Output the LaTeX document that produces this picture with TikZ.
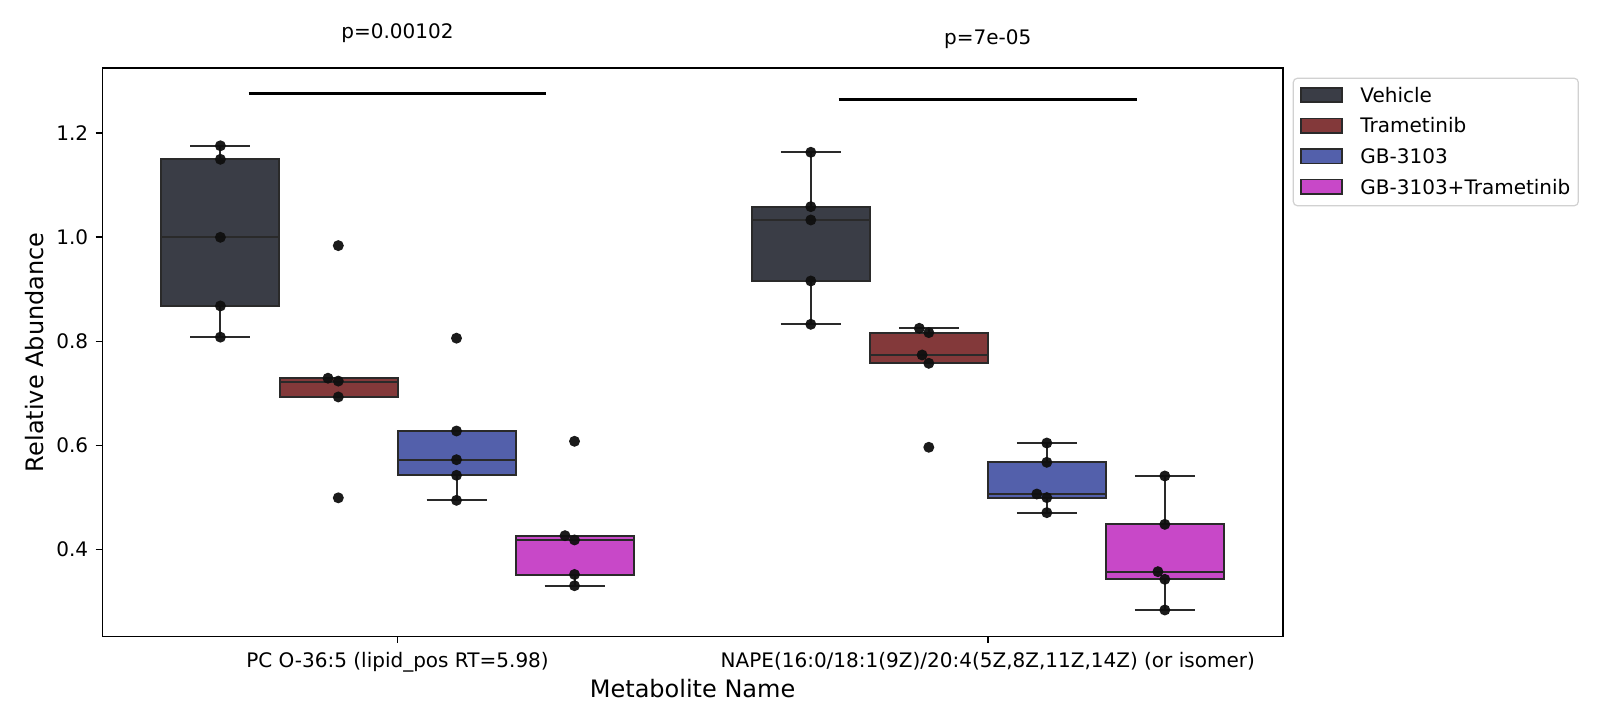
\documentclass[tikz,border=0pt]{standalone}
\usepackage{fontspec}
\setmainfont{DejaVu Sans}
\definecolor{cveh}{RGB}{58,61,70}
\definecolor{ctra}{RGB}{131,57,58}
\definecolor{cgb}{RGB}{83,96,171}
\definecolor{ccomb}{RGB}{200,72,200}
\definecolor{edgec}{RGB}{42,42,42}
\definecolor{dotc}{RGB}{15,15,15}
\tikzset{
  axisline/.style={line width=0.8pt, draw=black},
  boxedge/.style={draw=edgec, line width=1pt},
  sigline/.style={line width=1.5pt, draw=black},
  ticklab/.style={font=\fontsize{10}{12}\selectfont, inner sep=0pt},
  axlab/.style={font=\fontsize{12}{14}\selectfont, inner sep=0pt},
  dotst/.style={fill=dotc, fill opacity=0.95},
  legbox/.style={draw=black!18, line width=0.6pt, rounded corners=2pt, fill=white},
  legpatch/.style={draw=edgec, line width=0.8pt}
}
% box: center x, fill, whisker low, q1, median, q3, whisker high
\newcommand\myboxplot[7]{%
  \draw[boxedge] (#1,#4) -- (#1,#3);
  \draw[boxedge] (#1-30,#3) -- (#1+30,#3);
  \draw[boxedge] (#1,#6) -- (#1,#7);
  \draw[boxedge] (#1-30,#7) -- (#1+30,#7);
  \filldraw[boxedge, fill=#2] (#1-59,#4) rectangle (#1+59,#6);
  \draw[boxedge] (#1-59,#5) -- (#1+59,#5);
}
\newcommand\mydot[2]{\fill[dotst] (#1,#2) circle (2.75pt);}
\begin{document}
\begin{tikzpicture}[x=0.5pt,y=-0.5pt]
\fill[white] (0,0) rectangle (1600,727);
\useasboundingbox (0,0) rectangle (1600,727);

% data scope: x in px, y in data values
\begin{scope}[yshift=-378.65pt, y=260pt]
  % group 1
  \myboxplot{220.4}{cveh}{0.808}{0.868}{1.0}{1.15}{1.176}
  \myboxplot{338.5}{ctra}{0.693}{0.693}{0.7223}{0.7294}{0.7294}
  \myboxplot{456.5}{cgb}{0.4942}{0.5423}{0.5723}{0.6275}{0.6275}
  \myboxplot{574.5}{ccomb}{0.33}{0.3512}{0.4179}{0.4262}{0.4262}
  % group 2
  \myboxplot{810.8}{cveh}{0.8327}{0.916}{1.0333}{1.0589}{1.1635}
  \myboxplot{928.8}{ctra}{0.7577}{0.7577}{0.7737}{0.8167}{0.825}
  \myboxplot{1046.8}{cgb}{0.4705}{0.4981}{0.5063}{0.5673}{0.6044}
  \myboxplot{1164.8}{ccomb}{0.2833}{0.343}{0.3558}{0.448}{0.541}
  % points group 1
  \mydot{220.4}{1.176}\mydot{220.4}{1.15}\mydot{220.4}{1.0}\mydot{220.4}{0.868}\mydot{220.4}{0.808}
  \mydot{338.3}{0.984}\mydot{328.0}{0.729}\mydot{338.3}{0.7235}\mydot{338.3}{0.693}\mydot{338.3}{0.499}
  \mydot{456.5}{0.806}\mydot{456.5}{0.6275}\mydot{456.5}{0.5723}\mydot{456.5}{0.5423}\mydot{456.5}{0.4942}
  \mydot{574.5}{0.6077}\mydot{565.0}{0.4262}\mydot{574.5}{0.418}\mydot{574.5}{0.3516}\mydot{574.5}{0.33}
  % points group 2
  \mydot{810.8}{1.1635}\mydot{810.8}{1.0589}\mydot{810.8}{1.0333}\mydot{810.8}{0.916}\mydot{810.8}{0.8327}
  \mydot{919.3}{0.825}\mydot{928.8}{0.8167}\mydot{922.1}{0.7737}\mydot{928.8}{0.7577}\mydot{928.8}{0.5962}
  \mydot{1046.8}{0.6044}\mydot{1046.8}{0.5673}\mydot{1036.8}{0.5063}\mydot{1046.8}{0.4994}\mydot{1046.8}{0.4705}
  \mydot{1164.8}{0.541}\mydot{1164.8}{0.448}\mydot{1157.9}{0.357}\mydot{1164.8}{0.3423}\mydot{1164.8}{0.2833}
\end{scope}

% axes frame
\draw[axisline] (102.3,68) rectangle (1283,636.3);

% y ticks
\foreach \yy/\lab [count=\i] in {133.3/1.2, 237.3/1.0, 341.3/0.8, 445.3/0.6, 549.3/0.4}{
  \draw[axisline] (95.5,\yy) -- (102.3,\yy);
  \node[ticklab, anchor=east] (ytl\i) at (88.5,\yy) {\lab};
}
% x ticks
\draw[axisline] (397.5,636.3) -- (397.5,643.2);
\draw[axisline] (987.8,636.3) -- (987.8,643.2);
\node[ticklab, anchor=base] (xtl1) at (397.5,667.5) {PC O-36:5 (lipid\_pos RT=5.98)};
\node[ticklab, anchor=base] (xtl2) at (987.8,667.5) {NAPE(16:0/18:1(9Z)/20:4(5Z,8Z,11Z,14Z) (or isomer)};

% axis labels
\node[axlab, anchor=base] (xlab) at (692.6,697.5) {Metabolite Name};
\node[axlab, anchor=base, rotate=90] (ylab) at (43.5,352.2) {Relative Abundance};

% significance bars
\coordinate (s1a) at (248.7,93.3);
\coordinate (s1b) at (546,93.3);
\coordinate (s2a) at (838.6,100);
\coordinate (s2b) at (1136.8,100);
\draw[sigline] (s1a) -- (s1b);
\draw[sigline] (s2a) -- (s2b);
\node[ticklab, anchor=base] (p1) at (397.5,38.3) {p=0.00102};
\node[ticklab, anchor=base] (p2) at (987.8,44.3) {p=7e-05};

% legend
\draw[legbox] (1293.3,78.3) rectangle (1578.3,205.7);
\foreach \yy/\cc/\lab [count=\i] in {95/cveh/Vehicle, 125.6/ctra/Trametinib, 156.2/cgb/GB-3103, 186.8/ccomb/GB-3103+Trametinib}{
  \filldraw[legpatch, fill=\cc] (1301,\yy-7.2) rectangle (1342,\yy+7.2);
  \node[ticklab, anchor=base west] (leg\i) at (1360,\yy+7.3) {\lab};
}
\end{tikzpicture}
\end{document}
